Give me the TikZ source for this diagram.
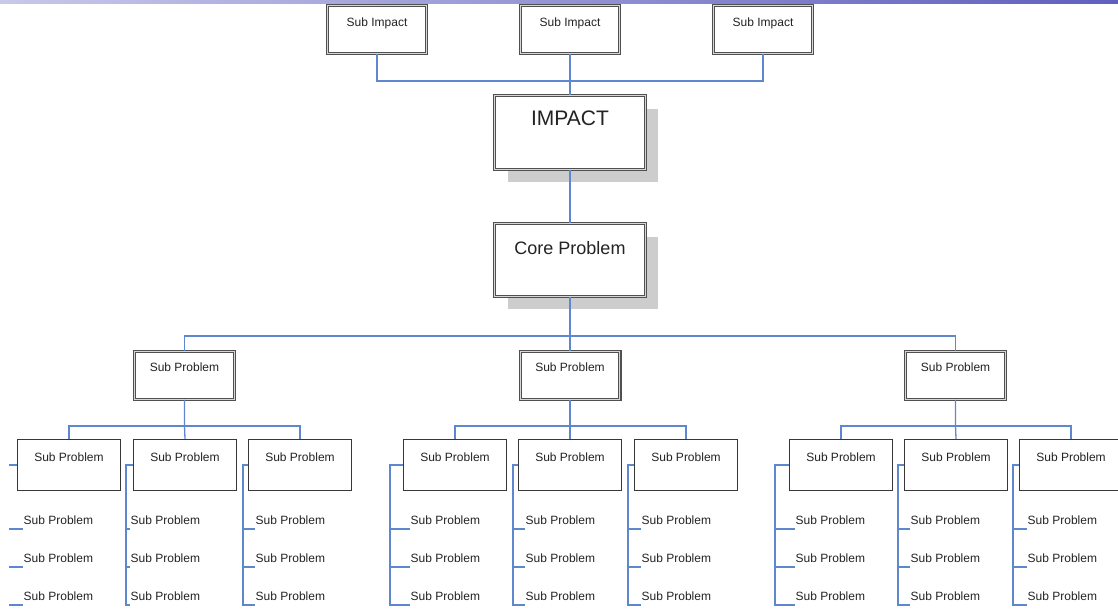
\documentclass[tikz,border=0pt]{standalone}
\usepackage{fontspec}
\setmainfont{Liberation Sans}
\usetikzlibrary{shadows,calc}
\definecolor{conncol}{RGB}{95,135,205}
\definecolor{bordcol}{RGB}{55,55,55}
\definecolor{dblcol}{RGB}{80,80,80}
\definecolor{dblmid}{RGB}{215,215,215}
\definecolor{shadcol}{RGB}{205,205,205}
\definecolor{txtcol}{RGB}{35,35,35}
\definecolor{barL}{RGB}{200,200,235}
\definecolor{barR}{RGB}{95,95,190}
\tikzset{
  conn/.style={draw=conncol, line width=1.3pt},
  dblbox/.style={draw=dblcol, line width=1.2pt, double=dblmid, double distance=1.0pt,
    fill=white, rectangle, inner xsep=0pt, inner ysep=0pt, text=txtcol},
  smallbox/.style={dblbox, minimum width=98.6pt, text height=20.5pt, text depth=27.1pt,
    font=\fontsize{12}{14}\selectfont},
  bigbox/.style={dblbox, minimum width=150.6pt,
    drop shadow={shadow xshift=13pt, shadow yshift=-13pt, fill=shadcol, opacity=1}},
  lbox/.style={draw=bordcol, line width=1.2pt, fill=white, rectangle, inner xsep=0pt, inner ysep=0pt,
    minimum width=103pt, text height=21.7pt, text depth=29.3pt, text=txtcol,
    font=\fontsize{12}{14}\selectfont},
  ltext/.style={inner xsep=0.5pt, inner ysep=3.7pt, anchor=south west, text=txtcol,
    font=\fontsize{12}{14}\selectfont}
}
\begin{document}
\begin{tikzpicture}[x=1pt, y=-1pt]
\useasboundingbox (0,0) rectangle (1118,610);
\fill[left color=barL, right color=barR] (0,0) rectangle (1118,3.5);

% top level
\node[smallbox] (si1) at (377,29.5) {Sub Impact};
\node[smallbox] (si2) at (570,29.5) {Sub Impact};
\node[smallbox] (si3) at (763,29.5) {Sub Impact};
\node[bigbox, text height=29.8pt, text depth=43.8pt, font=\fontsize{21}{24}\selectfont] (impact) at (570,132.5) {IMPACT};
\node[bigbox, text height=30.8pt, text depth=41.8pt, font=\fontsize{18}{21}\selectfont] (core) at (570,260) {Core Problem};

\coordinate (b1) at (570,81);
\draw[conn] (si1.south) |- (b1) -- (impact.north);
\draw[conn] (si3.south) |- (b1);
\draw[conn] (si2.south) -- (b1);
\draw[conn] (impact.south) -- (core.north);

% level 1
\foreach \g/\cx in {1/184.5,2/570,3/955.5}{
  \node[smallbox, minimum width=99.6pt, text height=19.6pt, text depth=28pt] (sp\g) at (\cx,375.5) {Sub Problem};
}
\coordinate (b2) at (570,336);
\draw[conn] (core.south) -- (b2) -- (sp2.north);
\draw[conn] (sp1.north) |- (b2) -| (sp3.north);

% level 2 boxes
\foreach \n/\cx in {1/69,2/185,3/300,4/455,5/570,6/686,7/841,8/956,9/1071}{
  \node[lbox] (q\n) at (\cx,465) {Sub Problem};
}
% level 1 -> level 2
\foreach \g/\a/\b/\c in {1/1/2/3,2/4/5/6,3/7/8/9}{
  \coordinate (g\g) at ($(sp\g.south)+(0,26)$);
  \draw[conn] (sp\g.south) -- (g\g) -- (q\b.north);
  \draw[conn] (q\a.north) |- (g\g) -| (q\c.north);
}

% level 3 lists
\foreach \n/\vx/\tx in {2/126/130,3/243/255,4/390/410,5/513/525,6/628/641,7/775/795,8/898/910,9/1013/1027}{
  \foreach \k/\ty in {1/529,2/567,3/605}{
    \node[ltext] (q\n-\k) at (\tx,\ty) {Sub Problem};
  }
  \draw[conn] (q\n.west) -- (\vx,465) -- (\vx,605) -- (q\n-3.south west);
  \draw[conn] (\vx,529) -- (q\n-1.south west);
  \draw[conn] (\vx,567) -- (q\n-2.south west);
}
% leftmost list (its spine lies outside the picture)
\foreach \k/\ty in {1/529,2/567,3/605}{
  \node[ltext] (q1-\k) at (23,\ty) {Sub Problem};
  \draw[conn] (9,\ty) -- (q1-\k.south west);
}
\draw[conn] (q1.west) -- (9,465);
\end{tikzpicture}
\end{document}
